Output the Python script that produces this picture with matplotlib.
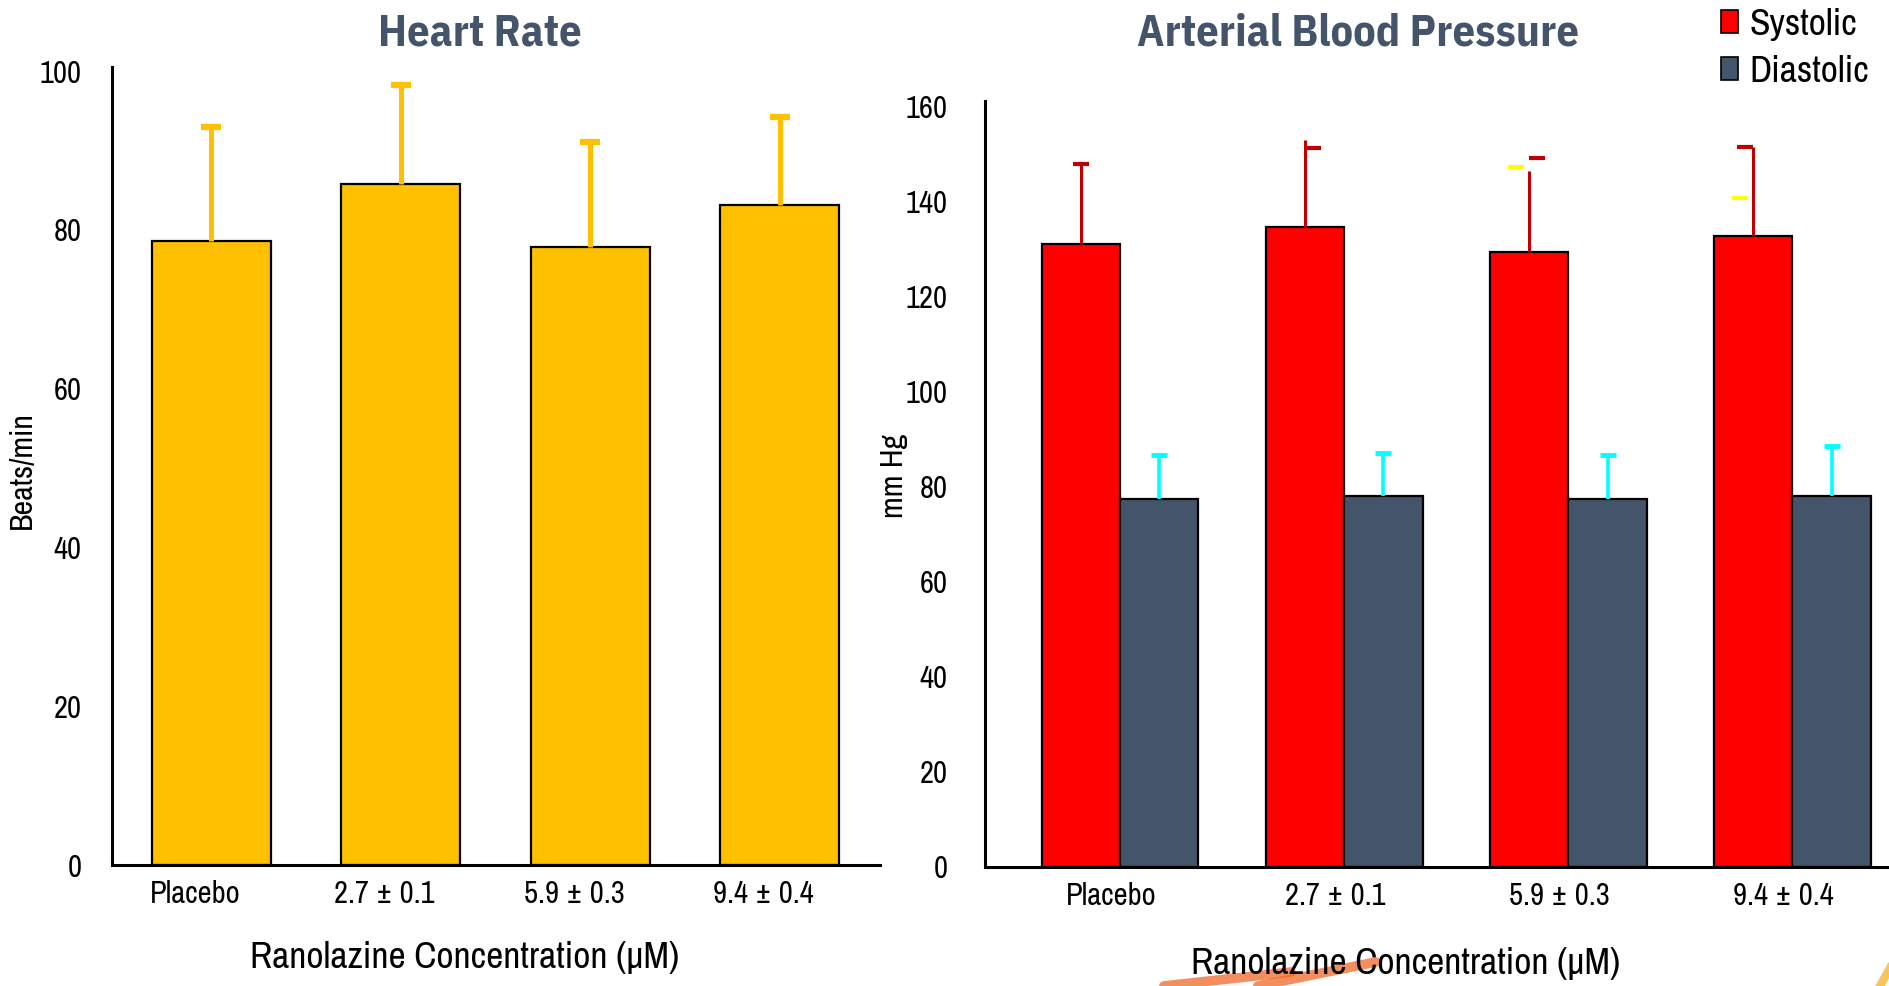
import matplotlib
matplotlib.use("Agg")
import matplotlib.pyplot as plt
import matplotlib.transforms as mtransforms
from matplotlib.patches import Patch
from matplotlib.lines import Line2D
import numpy as np

# ---------------- data ----------------
categories = ["Placebo", "2.7 ± 0.1", "5.9 ± 0.3", "9.4 ± 0.4"]

hr_mean = [78.6, 85.8, 77.8, 83.1]
hr_err_top = [93.0, 98.2, 91.0, 94.2]

sys_mean = [131.0, 134.6, 129.3, 132.7]
sys_err_top = [147.8, 152.9, 146.3, 151.4]   # top of the vertical error line
sys_cap_y = [147.8, 151.2, 149.1, 151.4]     # cap level
sys_cap_side = ["center", "right", "right", "left"]

dia_mean = [77.4, 78.0, 77.3, 78.0]
dia_err_top = [86.5, 87.0, 86.5, 88.4]

# stray yellow dashes next to the systolic error bars (group index, value)
stray_group = [2, 3]
stray_y = [147.2, 140.7]

# ---------------- style ----------------
NARROW = ["Archivo Narrow", "DejaVu Sans"]
TITLE_FONT = ["IBM Plex Sans Condensed", "DejaVu Sans"]
plt.rcParams["font.family"] = NARROW

YELLOW = "#ffc000"
RED = "#ff0000"
DARK_RED = "#c00000"
SLATE = "#44546a"
CYAN = "#00ffff"

fig = plt.figure(figsize=(18.9, 9.86), dpi=100)

# ---------------- Heart rate ----------------
ax1 = fig.add_axes([0.05926, 0.1227, 0.4063, 0.8093])
x = np.arange(len(categories))
ax1.bar(x, hr_mean, width=0.63, color=YELLOW, edgecolor="black", linewidth=1.6, zorder=2)
ax1.vlines(x, hr_mean, hr_err_top, color=YELLOW, linewidth=3.6, zorder=3)
ax1.plot(x, hr_err_top, linestyle="none", marker="_", markersize=15, markeredgewidth=4.5,
         color=YELLOW, zorder=3)
ax1.set_xlim(-0.525, 3.53)
ax1.set_ylim(0, 100.5)
ax1.set_yticks([0, 20, 40, 60, 80, 100])
ax1.set_xticks(x)
ax1.set_xticklabels(categories)
ax1.tick_params(axis="y", length=0, pad=22, labelsize=22)
ax1.tick_params(axis="x", length=0, pad=11, labelsize=22)
off1 = mtransforms.ScaledTranslation(-16 / 100, 0, fig.dpi_scale_trans)
for lab in ax1.get_xticklabels():
    lab.set_transform(lab.get_transform() + off1)
for s in ["top", "right"]:
    ax1.spines[s].set_visible(False)
for s in ["left", "bottom"]:
    ax1.spines[s].set_linewidth(2.2)
ax1.set_ylabel("Beats/min", fontsize=23)
ax1.yaxis.set_label_coords(-0.117, 0.495)
ax1.yaxis.label.set_verticalalignment("center")
ax1.set_xlabel("Ranolazine Concentration (µM)", fontsize=27)
ax1.xaxis.set_label_coords(0.4596, -0.1165)
ax1.xaxis.label.set_verticalalignment("center")
ax1.set_title("Heart Rate", fontsize=32, fontweight="bold", color=SLATE, family=TITLE_FONT,
              x=0.479, y=1.032, va="center")
ax1.patch.set_alpha(0)

# ---------------- Arterial blood pressure ----------------
ax2 = fig.add_axes([0.5212, 0.121, 0.4788, 0.7763])
w = 0.35
xs = x - w / 2
xd = x + w / 2
ax2.bar(xs, sys_mean, width=w, color=RED, edgecolor="black", linewidth=1.6, zorder=2,
        label="Systolic")
ax2.bar(xd, dia_mean, width=w, color=SLATE, edgecolor="black", linewidth=1.6, zorder=2,
        label="Diastolic")

# systolic error bars (irregular caps as in the original)
ax2.vlines(xs, sys_mean, sys_err_top, color=DARK_RED, linewidth=2.2, zorder=3)
cap_half = 0.036
cap_len = 0.072
for xi, cy, side in zip(xs, sys_cap_y, sys_cap_side):
    if side == "center":
        x0, x1 = xi - cap_half, xi + cap_half
    elif side == "right":
        x0, x1 = xi, xi + cap_len
    else:
        x0, x1 = xi - cap_len, xi
    ax2.hlines(cy, x0, x1, color=DARK_RED, linewidth=3.0, zorder=3)
for g, yv in zip(stray_group, stray_y):
    ax2.hlines(yv, xs[g] - 0.094, xs[g] - 0.024, color="#ffff00", linewidth=3.0, zorder=3)

# diastolic error bars
ax2.vlines(xd, dia_mean, dia_err_top, color=CYAN, linewidth=2.6, zorder=3)
ax2.plot(xd, dia_err_top, linestyle="none", marker="_", markersize=11.5, markeredgewidth=3.5,
         color=CYAN, zorder=3)

ax2.set_xlim(-0.602, 3.435)
ax2.set_ylim(0, 161)
ax2.set_yticks(np.arange(0, 161, 20))
ax2.set_xticks(x)
ax2.set_xticklabels(categories)
ax2.tick_params(axis="y", length=0, pad=27, labelsize=22)
ax2.tick_params(axis="x", length=0, pad=11, labelsize=22)
off2 = mtransforms.ScaledTranslation(-9 / 100, 0, fig.dpi_scale_trans)
for lab in ax2.get_xticklabels():
    lab.set_transform(lab.get_transform() + off2)
for s in ["top", "right"]:
    ax2.spines[s].set_visible(False)
for s in ["left", "bottom"]:
    ax2.spines[s].set_linewidth(2.2)
ax2.set_ylabel("mm Hg", fontsize=23)
ax2.yaxis.set_label_coords(-0.1006, 0.51)
ax2.yaxis.label.set_verticalalignment("center")
ax2.set_xlabel("Ranolazine Concentration (µM)", fontsize=27)
ax2.xaxis.set_label_coords(0.465, -0.127)
ax2.xaxis.label.set_verticalalignment("center")
ax2.set_title("Arterial Blood Pressure", fontsize=32, fontweight="bold", color=SLATE,
              family=TITLE_FONT, x=0.412, y=1.078, va="center")
ax2.patch.set_alpha(0)

handles = [Patch(facecolor=RED, edgecolor="black", linewidth=1.2),
           Patch(facecolor=SLATE, edgecolor="black", linewidth=1.2)]
fig.legend(handles, ["Systolic", "Diastolic"], loc="upper right",
           bbox_to_anchor=(0.991, 0.996), frameon=False, fontsize=27,
           handlelength=0.45, handleheight=0.56, handletextpad=0.3,
           labelspacing=0.38, borderpad=0.1, borderaxespad=0.0)

# decorative slide-background strokes at the bottom edge
for (xa, ya, xb, yb) in [(1164, 986, 1291, 972), (1258, 986, 1376, 962)]:
    fig.add_artist(Line2D([xa / 1890, xb / 1890], [1 - ya / 986, 1 - yb / 986],
                          transform=fig.transFigure, color="#f06a28", alpha=0.75,
                          linewidth=7, solid_capstyle="round", zorder=-1))
fig.add_artist(Line2D([1880 / 1890, 1890 / 1890], [1 - 986 / 986, 1 - 968 / 986],
                      transform=fig.transFigure, color="#f7b733", alpha=0.8,
                      linewidth=6, zorder=-1))

fig.savefig("out.png", dpi=100, facecolor="white")
